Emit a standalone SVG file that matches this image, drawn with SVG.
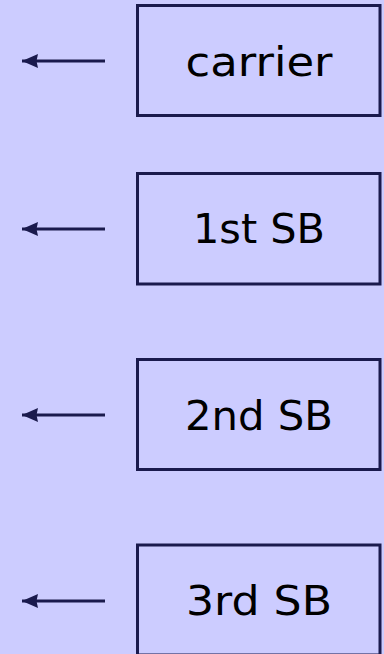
<svg xmlns="http://www.w3.org/2000/svg" width="384" height="654" viewBox="0 0 384 654">
  <style>
    .box { fill: #ccccff; stroke: #1a1a4d; stroke-width: 3; }
    .lbl { font-family: "DejaVu Sans", "Liberation Sans", sans-serif; font-size: 40px; fill: #000; text-anchor: middle; }
    .conn { stroke: #1a1a4d; stroke-width: 3; fill: none; marker-end: url(#arr); }
  </style>
  <defs>
    <marker id="arr" viewBox="0 0 16 14" markerWidth="16" markerHeight="14" markerUnits="userSpaceOnUse" refX="16" refY="7" orient="auto">
      <path d="M0,0 L16,7 L0,14 L1.5,7 z" fill="#1a1a4d"/>
    </marker>
  </defs>
  <rect x="0" y="0" width="384" height="654" fill="#ccccff"/>
  <g id="connectors">
    <line class="conn" x1="105" y1="61" x2="22" y2="61"/>
    <line class="conn" x1="105" y1="229" x2="22" y2="229"/>
    <line class="conn" x1="105" y1="415" x2="22" y2="415"/>
    <line class="conn" x1="105" y1="601" x2="22" y2="601"/>
  </g>
  <g id="carrier">
    <rect class="box" x="137.5" y="5.5" width="242.5" height="110"/>
    <text class="lbl" x="259" y="76" textLength="147" lengthAdjust="spacingAndGlyphs">carrier</text>
  </g>
  <g id="sb1">
    <rect class="box" x="137.5" y="173.5" width="242.5" height="110.5"/>
    <text class="lbl" x="259" y="243" textLength="132" lengthAdjust="spacingAndGlyphs">1st SB</text>
  </g>
  <g id="sb2">
    <rect class="box" x="137.5" y="359.5" width="242.5" height="110"/>
    <text class="lbl" x="259" y="430" textLength="148" lengthAdjust="spacingAndGlyphs">2nd SB</text>
  </g>
  <g id="sb3">
    <rect class="box" x="137.5" y="545" width="242.5" height="110"/>
    <text class="lbl" x="259" y="615" textLength="146" lengthAdjust="spacingAndGlyphs">3rd SB</text>
  </g>
</svg>
